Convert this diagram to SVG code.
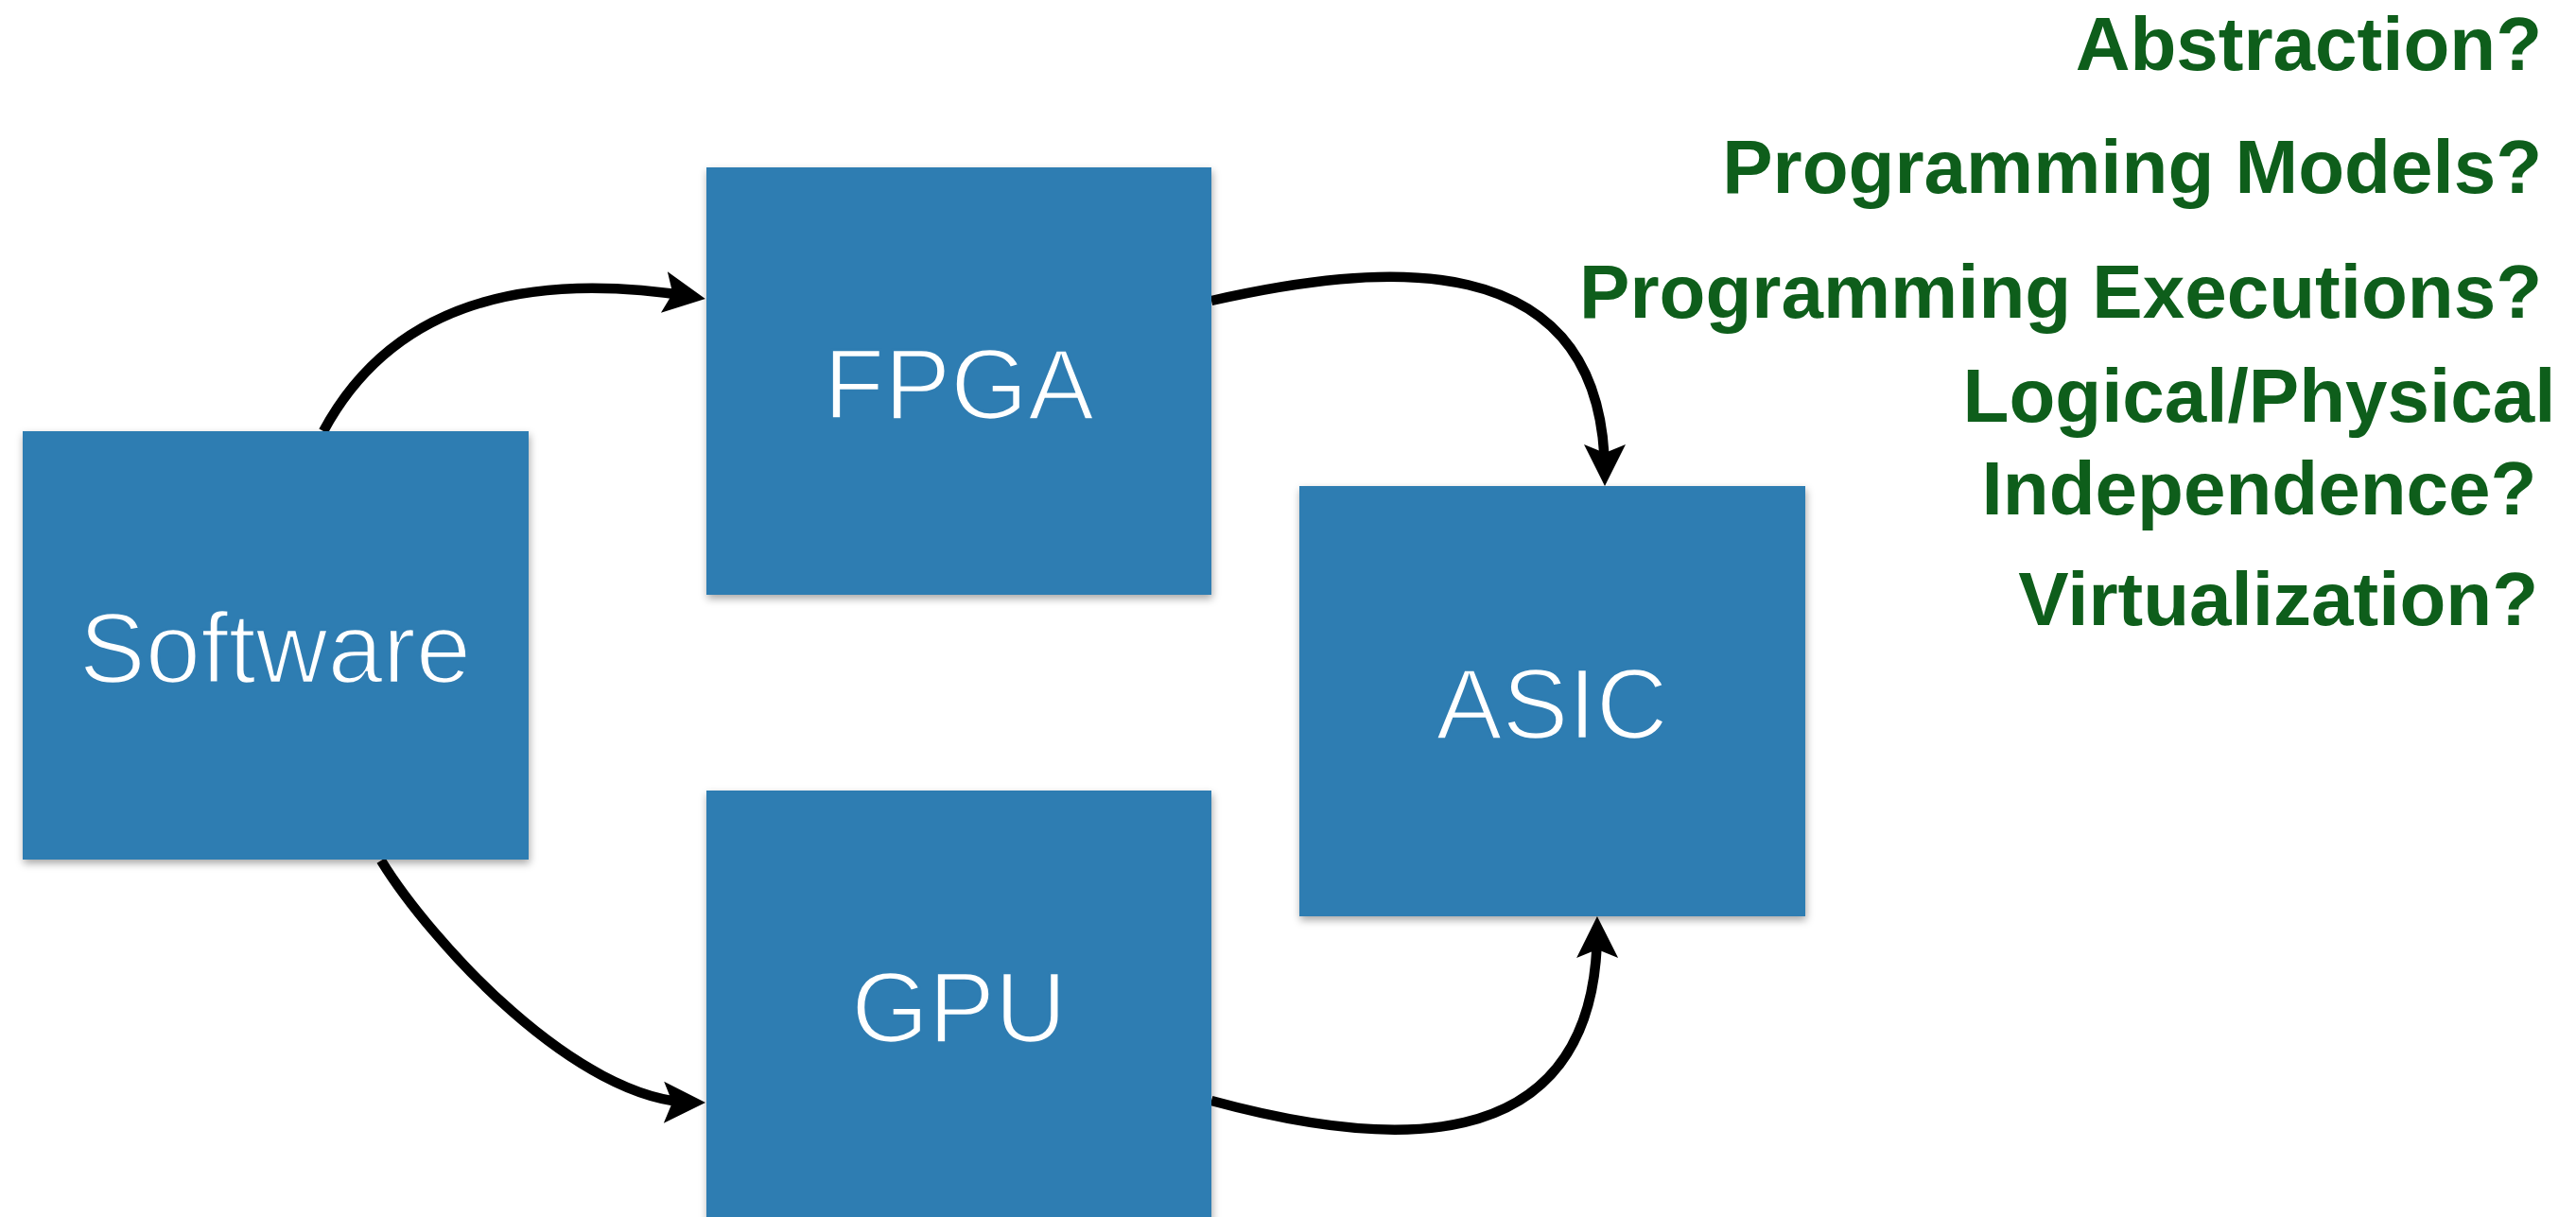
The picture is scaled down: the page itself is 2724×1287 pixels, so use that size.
<svg xmlns="http://www.w3.org/2000/svg" width="2724" height="1287" viewBox="0 0 2724 1287">
  <defs>
    <style>
      .box { fill: #2f7db2; filter: url(#shadow); }
      .label { fill: #ffffff; stroke: #2f7db2; stroke-width: 2.5; font-family: "Liberation Sans", Arial, Helvetica, sans-serif; font-size: 105px; font-weight: 400; text-anchor: middle; }
      .question { fill: #0e5e1b; font-family: "Liberation Sans", Arial, Helvetica, sans-serif; font-size: 80px; font-weight: 700; }
      .edge { fill: none; stroke: #000000; stroke-width: 10.5; marker-end: url(#arrow); }
    </style>
    <filter id="shadow" x="-5%" y="-5%" width="110%" height="115%">
      <feDropShadow dx="1" dy="4" stdDeviation="4" flood-color="#000000" flood-opacity="0.35"/>
    </filter>
    <marker id="arrow" markerUnits="userSpaceOnUse" viewBox="-40 -26 56 52" refX="0" refY="0" markerWidth="56" markerHeight="52" orient="auto">
      <path d="M12,0 L-32,-22 L-23,0 L-32,22 Z" fill="#000000"/>
    </marker>
  </defs>

  <rect width="2724" height="1287" fill="#ffffff"/>

  <!-- connectors -->
  <g id="connectors">
    <path id="software-fpga" class="edge" d="M342,456 C410,330 540,283 734,314"/>
    <path id="fpga-asic" class="edge" d="M1281,318 C1450,280 1697,250 1697,502"/>
    <path id="software-gpu" class="edge" d="M403,910 C455,995 610,1165 734,1166"/>
    <path id="gpu-asic" class="edge" d="M1281,1164 C1450,1210 1690,1240 1689,981"/>
  </g>

  <!-- nodes -->
  <g id="node-software">
    <rect class="box" x="24" y="456" width="535" height="453"/>
    <text class="label" x="291" y="722">Software</text>
  </g>
  <g id="node-fpga">
    <rect class="box" x="747" y="177" width="534" height="452"/>
    <text class="label" x="1014" y="443">FPGA</text>
  </g>
  <g id="node-gpu">
    <rect class="box" x="747" y="836" width="534" height="470"/>
    <text class="label" x="1014" y="1102">GPU</text>
  </g>
  <g id="node-asic">
    <rect class="box" x="1374" y="514" width="535" height="455"/>
    <text class="label" x="1641" y="781">ASIC</text>
  </g>

  <!-- open questions -->
  <g id="questions">
    <text class="question" x="2688" y="74" text-anchor="end">Abstraction?</text>
    <text class="question" x="2688" y="204" text-anchor="end">Programming Models?</text>
    <text class="question" x="2688" y="336" text-anchor="end">Programming Executions?</text>
    <text class="question" x="2389" y="446" text-anchor="middle">Logical/Physical</text>
    <text class="question" x="2389" y="544" text-anchor="middle">Independence?</text>
    <text class="question" x="2684" y="661" text-anchor="end">Virtualization?</text>
  </g>
</svg>
